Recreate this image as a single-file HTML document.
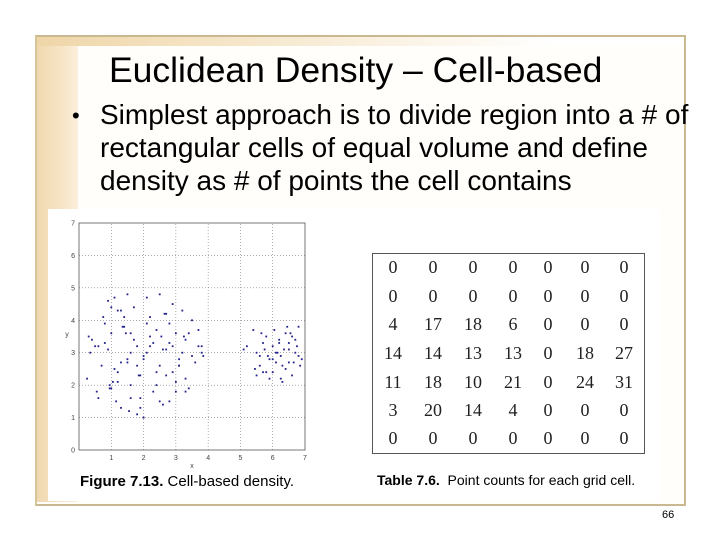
<!DOCTYPE html>
<html><head><meta charset="utf-8"><style>
body{margin:0;width:720px;height:540px;background:#fff;position:relative;overflow:hidden;font-family:"Liberation Sans",sans-serif}
.abs{position:absolute}
</style></head><body>
<div class="abs" style="left:35px;top:35px;width:647px;height:467px;border:2px solid #c9b890;border-left-color:#d8c49a;background:#fffefa"></div>
<div class="abs" style="left:37px;top:37px;width:41px;height:465px;background:linear-gradient(90deg,#f0d9b0,#f6e4c6 60%,#fbefdc)"></div>
<div class="abs" style="left:37px;top:37px;width:645px;height:9px;background:linear-gradient(90deg,#efd6a8,#fff 80%)"></div>
<div class="abs" style="left:109px;top:50px;font-size:35.5px;color:#000;white-space:nowrap">Euclidean Density – Cell-based</div>
<div class="abs" style="left:72px;top:99px;font-size:22px;line-height:33px">•</div>
<div class="abs" style="left:100px;top:98px;font-size:28px;line-height:33px;color:#000;white-space:nowrap">Simplest approach is to divide region into a # of<br>rectangular cells of equal volume and define<br>density as # of points the cell contains</div>
<div class="abs" style="left:48px;top:209px;width:612px;height:292px;background:#fff"></div>
<svg class="abs" style="left:0;top:0" width="720" height="540">
<g id="plot"></g>
<text x="80" y="486" font-size="15" font-weight="bold" font-family="Liberation Sans">Figure 7.13.<tspan font-weight="normal">  Cell-based density.</tspan></text>
</svg>
<div class="abs" style="left:372px;top:253px;width:271px;height:199px;border:1px solid #555"></div>
<div id="tbl"></div>
<div class="abs" style="left:377px;top:472px;font-size:14px;white-space:nowrap"><b>Table 7.6.</b>&nbsp; Point counts for each grid cell.</div>
<div class="abs" style="left:662px;top:509px;font-size:11px">66</div>
<script>
const xTicks=[0,1,2,3,4,5,6,7];
const yTicks=[0,1,2,3,4,5,6,7];
const ptsX=[0.3,0.35,0.25,0.5,0.55,0.6,0.7,0.75,0.8,0.9,0.95,1.0,1.05,1.1,1.2,1.3,1.4,1.5,1.55,1.6,1.7,1.8,1.9,2.0,2.1,2.2,2.3,2.4,2.5,2.6,2.7,2.8,2.9,3.0,3.1,3.2,3.3,3.4,3.5,3.6,3.7,3.8,3.85,0.4,0.6,0.9,1.1,1.3,1.5,1.7,1.9,2.1,2.3,2.5,2.7,2.9,3.1,3.3,3.5,3.7,0.8,1.0,1.2,1.4,1.6,1.8,2.0,2.2,2.4,2.6,2.8,3.0,3.2,3.4,1.0,1.2,1.5,1.8,2.1,2.4,2.7,3.0,3.3,1.3,1.6,1.9,2.2,2.5,2.8,3.1,1.45,1.6,1.85,2.0,2.55,2.9,0.95,1.15,1.35,2.65,3.25,3.8,
5.1,5.2,5.4,5.5,5.6,5.7,5.8,5.9,6.0,6.1,6.2,6.3,6.4,6.5,6.6,6.7,6.8,6.9,5.45,5.65,5.85,6.05,6.25,6.45,6.65,6.85,5.5,5.75,6.0,6.2,6.4,6.6,6.8,5.6,5.9,6.1,6.3,6.5,6.7,5.7,6.0,6.25,6.5,6.75,5.8,6.15,6.35,6.55];
const ptsY=[3.5,3.0,2.2,3.2,1.8,1.6,2.6,4.1,3.3,4.6,2.0,4.4,2.1,4.7,4.3,1.3,4.1,4.8,1.2,1.6,4.4,1.1,1.3,1.0,4.7,3.2,1.8,3.7,4.8,1.4,4.2,1.5,4.5,1.8,2.6,4.3,2.2,3.6,4.0,2.7,3.7,3.0,2.9,3.4,3.2,3.1,2.5,2.7,2.8,3.4,2.3,3.0,3.3,2.6,3.1,2.4,2.6,3.4,2.9,3.2,3.9,1.9,2.4,3.8,2.0,2.6,2.9,3.5,2.4,3.1,3.3,2.1,3.0,1.9,3.6,2.1,2.7,3.2,3.9,2.0,2.3,3.6,1.8,4.3,3.0,1.6,4.1,1.5,3.9,2.8,3.6,3.6,2.3,2.8,3.5,3.2,1.9,1.5,3.8,4.2,3.5,3.2,
3.1,3.2,3.7,3.0,2.6,2.4,3.5,2.8,3.2,2.7,3.4,2.1,3.6,3.1,2.3,3.0,2.9,2.8,2.5,3.6,2.9,3.7,2.2,3.8,2.7,2.6,2.3,3.1,2.8,3.3,2.5,3.5,3.8,2.9,2.2,3.0,2.6,3.3,3.4,3.3,2.4,2.9,2.7,3.2,2.4,3.0,3.1,3.6];
const counts=[[0,0,0,0,0,0,0],[0,0,0,0,0,0,0],[4,17,18,6,0,0,0],[14,14,13,13,0,18,27],[11,18,10,21,0,24,31],[3,20,14,4,0,0,0],[0,0,0,0,0,0,0]];
const X=v=>79+v*(305-79)/7, Y=v=>450-v*(450-223)/7;
const g=document.getElementById('plot'),NS='http://www.w3.org/2000/svg';
function mk(t,a){const e=document.createElementNS(NS,t);for(const k in a)e.setAttribute(k,a[k]);g.appendChild(e);return e;}
xTicks.forEach(t=>{if(t>0&&t<7){const l=mk('line',{x1:X(t),x2:X(t),y1:Y(0),y2:Y(7),stroke:'#777','stroke-width':0.6,'stroke-dasharray':'1,2'});

}
if(t>0){const s=mk('text',{x:X(t),y:Y(0)+10,'font-size':7,'text-anchor':'middle',fill:'#444'});s.textContent=t;

}});
yTicks.forEach(t=>{if(t>0&&t<7){const l=mk('line',{x1:X(0),x2:X(7),y1:Y(t),y2:Y(t),stroke:'#777','stroke-width':0.6,'stroke-dasharray':'1,2'});

}
const s=mk('text',{x:X(0)-4,y:Y(t)+2.5,'font-size':7,'text-anchor':'end',fill:'#444'});s.textContent=t;

});
const fr=mk('rect',{x:X(0),y:Y(7),width:X(7)-X(0),height:Y(0)-Y(7),fill:'none',stroke:'#555','stroke-width':0.8});


const xl=mk('text',{x:X(3.5),y:Y(0)+18,'font-size':7,'text-anchor':'middle',fill:'#444'});xl.textContent='x';


const yl=mk('text',{x:X(0)-12,y:Y(3.5),'font-size':7,'text-anchor':'middle',fill:'#444'});yl.textContent='y';


ptsX.forEach((x,i)=>{const c=mk('rect',{x:X(x)-0.9,y:Y(ptsY[i])-0.9,width:1.8,height:1.8,fill:'#22228a'});

});
const colX=[393,433,473,513,548,585,624],rowY=[268,297,325,354,383,411,439];
const tb=document.getElementById('tbl');
counts.forEach((r,i)=>r.forEach((v,j)=>{const d=document.createElement('div');d.className='abs';
d.style.cssText=`left:${colX[j]-20}px;top:${rowY[i]-11}px;width:40px;text-align:center;font:18px "Liberation Serif",serif;color:#222`;
d.textContent=v;


tb.appendChild(d);}));
</script>
</body></html>
